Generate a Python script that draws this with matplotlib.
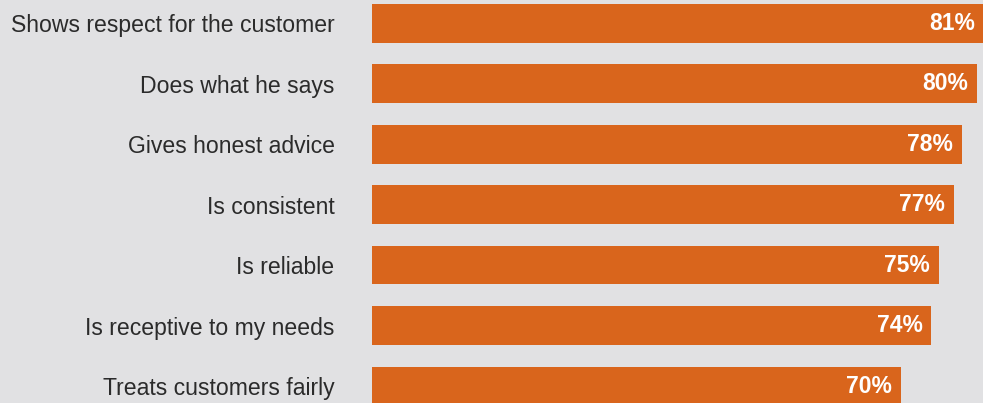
import matplotlib
matplotlib.use("Agg")
import matplotlib.pyplot as plt

categories = ["Shows respect for the customer", "Does what he says", "Gives honest advice",
              "Is consistent", "Is reliable", "Is receptive to my needs", "Treats customers fairly"]
values = [81, 80, 78, 77, 75, 74, 70]
value_labels = ["81%", "80%", "78%", "77%", "75%", "74%", "70%"]

BG = "#e1e1e3"
BAR = "#d9651c"
TXT = "#2b2b2b"

plt.rcParams['font.family'] = ['Liberation Sans', 'DejaVu Sans']

W, H = 983, 403
fig = plt.figure(figsize=(W / 100, H / 100), dpi=100, facecolor=BG)
ax = fig.add_axes([372 / W, 0, 1 - 372 / W, 1])
ax.set_facecolor(BG)

pos = list(range(len(categories)))
ax.barh(pos, values, height=0.64, color=BAR, edgecolor="none")
ax.set_xlim(0, 611 / 7.56)
ax.set_ylim(6.281, -0.385)

ax.set_yticks(pos)
ax.set_yticklabels(categories, fontsize=16.6, color=TXT)
ax.tick_params(axis="y", length=0, pad=27)
ax.set_xticks([])
for s in ax.spines.values():
    s.set_visible(False)

for p, v, lab in zip(pos, values, value_labels):
    ax.annotate(lab, xy=(v, p), xytext=(-6.5, 0), textcoords="offset points",
                ha="right", va="center", color="white", fontsize=16.5, fontweight="bold",
                annotation_clip=False)

fig.savefig("out.png", dpi=100, facecolor=BG)
